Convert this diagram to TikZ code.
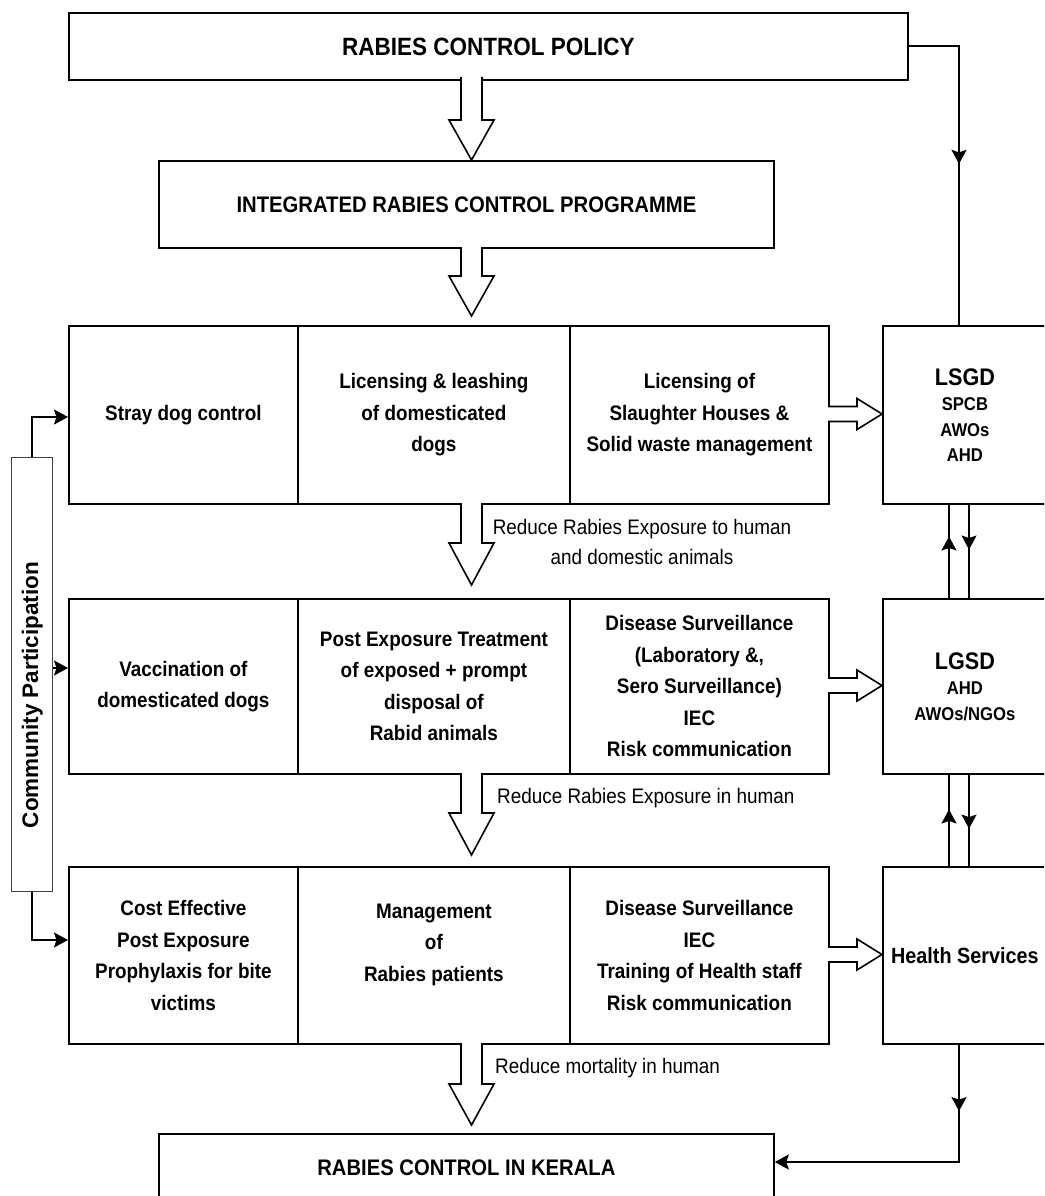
\documentclass[tikz,border=0pt]{standalone}
\usepackage{fontspec}
\setmainfont{Liberation Sans}
\newfontfamily\narrowfont[FakeStretch=0.9]{Liberation Sans}
\usetikzlibrary{arrows.meta,decorations.markings,calc}
\newcommand{\hdn}[4]{%
  \draw[hollow] (#1-10.5,#2) -- (#1-10.5,#3) -- (#1-22.5,#3) -- (#1,#4) -- (#1+22.5,#3) -- (#1+10.5,#3) -- (#1+10.5,#2);}
\newcommand{\hrt}[1]{%
  \draw[hollow] (828,#1-7.5) -- (857,#1-7.5) -- (857,#1-15.5) -- (882,#1) -- (857,#1+15.5) -- (857,#1+7.5) -- (828,#1+7.5);}
\begin{document}
\begin{tikzpicture}[x=1pt,y=-1pt,
  box/.style={draw, line width=1.8pt, inner sep=2pt, align=center, anchor=north west,
    font=\narrowfont\bfseries\fontsize{21}{31.5}\selectfont},
  topbox/.style={box, font=\narrowfont\bfseries\fontsize{22.5}{26}\selectfont},
  sidebox/.style={box, font=\narrowfont\bfseries\fontsize{18.5}{25.5}\selectfont},
  lab/.style={font=\narrowfont\fontsize{21}{30}\selectfont, align=center, inner sep=0pt},
  hollow/.style={line width=1.6pt, fill=white, line join=miter},
  conn/.style={line width=1.8pt},
  tip/.style={-{Stealth[length=14pt,width=15pt,inset=2.5pt]}},
  midarr/.style={postaction={decorate}, decoration={markings,
    mark=at position #1 with {\arrow{Stealth[length=14pt,width=15pt,inset=2.5pt]}}}}
]
\useasboundingbox (0,0) rectangle (1044,1196);
\clip (0,0) rectangle (1044,1196);

% top boxes
\node[topbox, minimum width=839pt, minimum height=67pt, font=\narrowfont\bfseries\fontsize{25}{28}\selectfont] (pol) at (68,12) {RABIES CONTROL POLICY};
\node[topbox, minimum width=615pt, minimum height=87pt] (irc) at (158,160) {INTEGRATED RABIES CONTROL PROGRAMME};

% row 1
\node[box, minimum width=229pt, minimum height=178pt] (c11) at (68,325) {Stray dog control};
\node[box, minimum width=272pt, minimum height=178pt] (c12) at (297,325) {Licensing \& leashing\\of domesticated\\dogs};
\node[box, minimum width=259pt, minimum height=178pt] (c13) at (569,325) {Licensing of\\Slaughter Houses \&\\Solid waste management};
% row 2
\node[box, minimum width=229pt, minimum height=175pt] (c21) at (68,598) {Vaccination of\\domesticated dogs};
\node[box, minimum width=272pt, minimum height=175pt] (c22) at (297,598) {Post Exposure Treatment\\of exposed + prompt\\disposal of\\Rabid animals};
\node[box, minimum width=259pt, minimum height=175pt] (c23) at (569,598) {Disease Surveillance\\(Laboratory \&,\\Sero Surveillance)\\IEC\\Risk communication};
% row 3
\node[box, minimum width=229pt, minimum height=177pt] (c31) at (68,866) {Cost Effective\\Post Exposure\\Prophylaxis for bite\\victims};
\node[box, minimum width=272pt, minimum height=177pt] (c32) at (297,866) {Management\\of\\Rabies patients\\[-6pt]\mbox{}};
\node[box, minimum width=259pt, minimum height=177pt] (c33) at (569,866) {Disease Surveillance\\IEC\\Training of Health staff\\Risk communication};

% right column
\node[sidebox, minimum width=164pt, minimum height=178pt] (r1) at (882,325) {{\fontsize{24}{27}\selectfont LSGD}\\SPCB\\AWOs\\AHD};
\node[sidebox, minimum width=164pt, minimum height=175pt] (r2) at (882,598) {{\fontsize{24}{27}\selectfont LGSD}\\AHD\\AWOs/NGOs};
\node[sidebox, minimum width=164pt, minimum height=177pt, font=\narrowfont\bfseries\fontsize{22}{24}\selectfont] (r3) at (882,866) {Health Services};

% bottom box
\node[topbox, minimum width=615pt, minimum height=67pt] (bot) at (158,1133) {RABIES CONTROL IN KERALA};

% community participation
\node[draw=black!75, line width=1.4pt, minimum width=41pt, minimum height=434pt, inner sep=0pt, anchor=north west] (comm) at (11,457) {};
\node[rotate=90, font=\bfseries\fontsize{22.5}{24}\selectfont] (commtxt) at ($(comm.north)+(0,238)$) {Community Participation};

% hollow arrows
\hdn{471.5}{77}{120}{160}
\hdn{471.5}{247}{276}{316}
\hdn{471.5}{503}{543}{585}
\hdn{471.5}{773}{813}{855}
\hdn{471.5}{1043}{1084}{1125}
\hrt{414}
\hrt{685.5}
\hrt{954.5}

% labels
\node[lab] (l1) at (642,542) {Reduce Rabies Exposure to human\\and domestic animals};
\node[lab, anchor=west] (l2) at (497,798) {Reduce Rabies Exposure in human};
\node[lab, anchor=west] (l3) at (495,1068) {Reduce mortality in human};

% connectors
\draw[conn, midarr=0.51] (pol.east) -| ($(r1.north west)+(77,0)$);
\draw[conn, midarr=0.66] ($(r2.north west)+(67,0)$) -- ($(r1.south west)+(67,0)$);
\draw[conn, midarr=0.48] ($(r1.south west)+(87,0)$) -- ($(r2.north west)+(87,0)$);
\draw[conn, midarr=0.62] ($(r3.north west)+(67,0)$) -- ($(r2.south west)+(67,0)$);
\draw[conn, midarr=0.59] ($(r2.south west)+(87,0)$) -- ($(r3.north west)+(87,0)$);
\draw[conn, tip, midarr=0.22] ($(r3.south west)+(77,0)$) |- ($(bot.north east)+(0,29)$);

\draw[conn, tip] (comm.north) |- ($(c11.north west)+(0,92)$);
\draw[conn, tip] ($(comm.north east)+(0,211)$) -- ($(c21.north west)+(0,70)$);
\draw[conn, tip] (comm.south) |- ($(c31.north west)+(0,74)$);
\end{tikzpicture}
\end{document}
